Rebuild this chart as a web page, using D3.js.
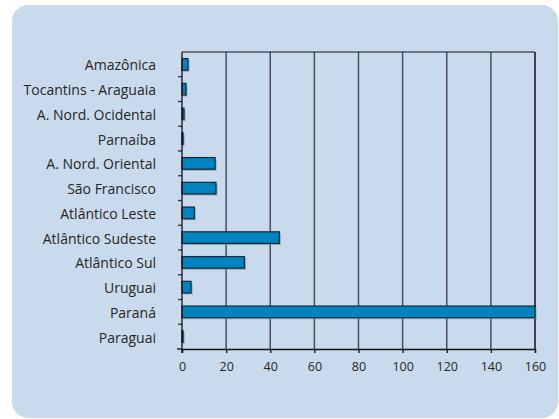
<!DOCTYPE html>
<html>
<head>
<meta charset="utf-8">
<script src="https://cdn.jsdelivr.net/npm/d3@7/dist/d3.min.js"></script>
<style>
  html, body { margin: 0; padding: 0; background: #ffffff; }
  svg { display: block; }
  text { font-family: "Open Sans", "Lato", sans-serif; fill: #262626; }
</style>
</head>
<body>
<script>
// Hydrographic regions and their values
const categories = [
  "Amazônica", "Tocantins - Araguaia", "A. Nord. Ocidental", "Parnaíba",
  "A. Nord. Oriental", "São Francisco", "Atlântico Leste", "Atlântico Sudeste",
  "Atlântico Sul", "Uruguai", "Paraná", "Paraguai"
];
const values = [2.7, 1.8, 0.9, 0.5, 15.0, 15.4, 5.6, 44.1, 28.3, 4.1, 160, 0.5];
const xTicks = [0, 20, 40, 60, 80, 100, 120, 140, 160];

const W = 559, H = 419;
const svg = d3.select("body").append("svg").attr("width", W).attr("height", H);

// rounded panel
svg.append("rect")
  .attr("x", 12).attr("y", 5).attr("width", 546).attr("height", 413)
  .attr("rx", 16).attr("ry", 16)
  .attr("fill", "#c9daec");

const m = { left: 182, right: 535, top: 52, bottom: 349 };

const x = d3.scaleLinear().domain([0, 160]).range([m.left, m.right]);
const y = d3.scaleBand().domain(categories).range([m.top, m.bottom]).paddingInner(0.53).paddingOuter(0.265);
const yb = d3.scaleBand().domain(categories).range([m.top, m.bottom]);

// vertical grid lines
svg.append("g").selectAll("line").data(xTicks.slice(1))
  .join("line")
  .attr("x1", d => x(d)).attr("x2", d => x(d))
  .attr("y1", m.top).attr("y2", m.bottom)
  .attr("stroke", d => d === 160 ? "#111" : "#4a4f55")
  .attr("stroke-width", 1.5);

// top frame line
svg.append("line")
  .attr("x1", m.left).attr("x2", m.right)
  .attr("y1", m.top).attr("y2", m.top)
  .attr("stroke", "#111").attr("stroke-width", 1.2);

// bar shadows
svg.append("g").selectAll("rect").data(values)
  .join("rect")
  .attr("x", x(0) + 1.5)
  .attr("y", (d, i) => y(categories[i]) + 1.5)
  .attr("width", d => Math.max(0, Math.min(x(d), m.right) - x(0)))
  .attr("height", y.bandwidth())
  .attr("fill", "#7f8b97").attr("opacity", 0.7);

// bars
svg.append("g").selectAll("rect").data(values)
  .join("rect")
  .attr("x", x(0))
  .attr("y", (d, i) => y(categories[i]))
  .attr("width", d => Math.max(0, x(d) - x(0)))
  .attr("height", y.bandwidth())
  .attr("fill", "#0083be")
  .attr("stroke", "#0d2a3a").attr("stroke-width", 1.2);

// x axis
const xAxis = svg.append("g")
  .attr("transform", `translate(0,${m.bottom})`)
  .call(d3.axisBottom(x).tickValues(xTicks).tickSize(4).tickPadding(9).tickFormat(d3.format("d")));
xAxis.select(".domain").attr("stroke", "#111").attr("stroke-width", 1.3);
xAxis.selectAll(".tick line").attr("stroke", "#111").attr("stroke-width", 1.3);
xAxis.selectAll("text").attr("font-size", 12.5).attr("fill", "#333")
  .style("font-family", "'Open Sans', sans-serif");

// y axis: separator ticks between bands
svg.append("g").selectAll("line").data(categories.slice(1))
  .join("line")
  .attr("x1", m.left - 4).attr("x2", m.left)
  .attr("y1", d => yb(d)).attr("y2", d => yb(d))
  .attr("stroke", "#333").attr("stroke-width", 1.3);
svg.append("line")
  .attr("x1", m.left).attr("x2", m.left)
  .attr("y1", m.top).attr("y2", m.bottom + 4)
  .attr("stroke", "#111").attr("stroke-width", 1.3);
svg.append("line")
  .attr("x1", m.left - 5).attr("x2", m.left)
  .attr("y1", m.bottom).attr("y2", m.bottom)
  .attr("stroke", "#111").attr("stroke-width", 1.3);

// category labels
svg.append("g").selectAll("text").data(categories)
  .join("text")
  .attr("x", 156)
  .attr("y", d => yb(d) + yb.bandwidth() / 2 + 1)
  .attr("dy", "0.35em")
  .attr("text-anchor", "end")
  .attr("font-size", 14)
  .text(d => d);
</script>
</body>
</html>
